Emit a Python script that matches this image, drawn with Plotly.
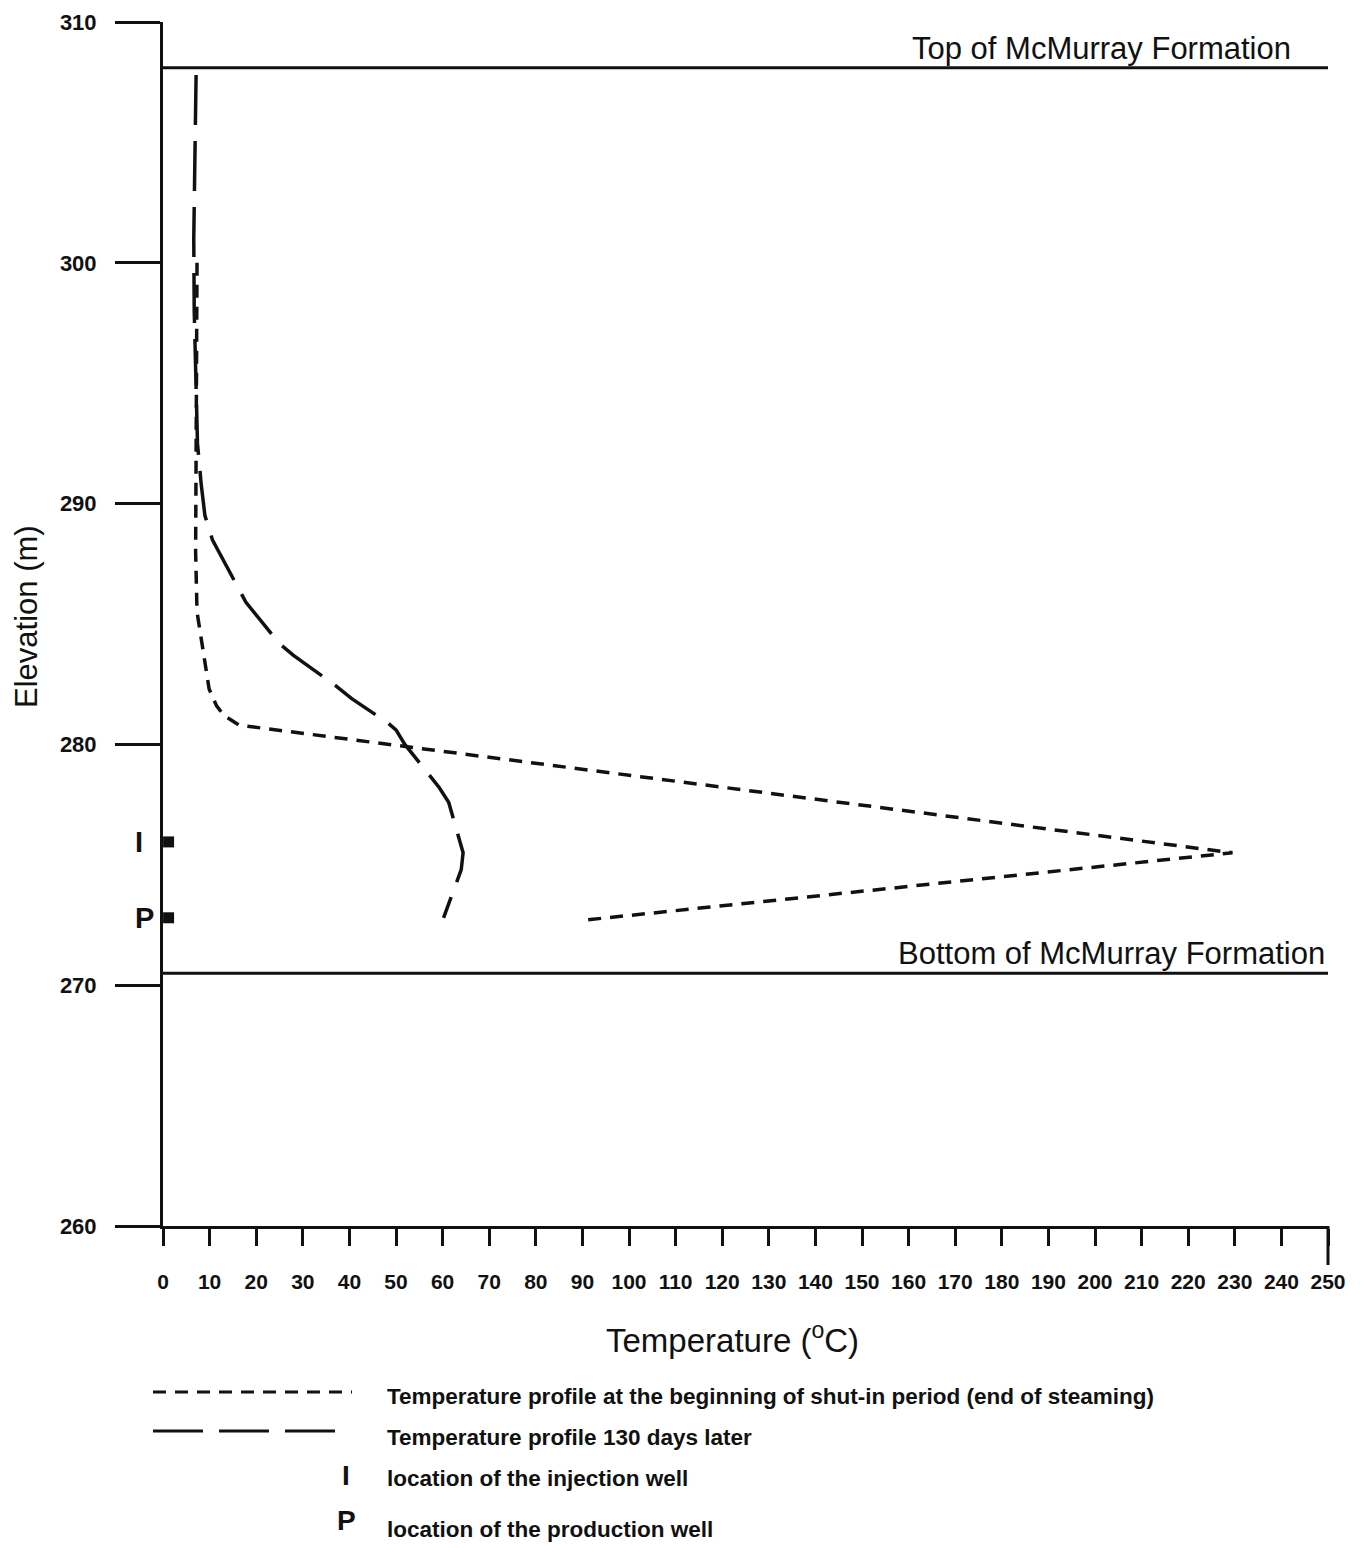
import plotly.graph_objects as go

# ---------------- data ----------------
# Temperature profile at the beginning of shut-in period (end of steaming)
shutin_temp = [7.3, 7.2, 7.0, 7.0, 7.3, 8.3, 9.9, 11.5, 13.1, 16.3, 229.5, 90.3]
shutin_elev = [300.0, 295.0, 290.8, 288.0, 285.5, 284.2, 282.3, 281.6, 281.2, 280.8, 275.5, 272.7]

# Temperature profile 130 days later
later_temp = [7.1, 6.9, 6.6, 6.7, 7.0, 7.4, 8.2, 9.0, 10.6, 15.8, 17.8, 24.9, 28.0,
              37.3, 40.5, 48.2, 50.0, 51.9, 59.3, 61.3, 64.4, 64.0, 60.2]
later_elev = [307.8, 304.5, 301.0, 298.0, 295.0, 292.5, 290.8, 289.5, 288.5, 286.6, 285.9, 284.2, 283.7,
              282.4, 281.9, 280.9, 280.6, 280.0, 278.2, 277.6, 275.5, 274.8, 272.8]

# Wells
well_names = ["I", "P"]
well_temp = [1.2, 1.2]
well_elev = [275.95, 272.8]

# Formation boundaries
formation_names = ["Top of McMurray Formation", "Bottom of McMurray Formation"]
formation_elev = [308.1, 270.5]

x_ticks = list(range(0, 251, 10))
y_ticks = list(range(260, 311, 10))

legend_labels = [
    "Temperature profile at the beginning of shut-in period (end of steaming)",
    "Temperature profile 130 days later",
    "location of the injection well",
    "location of the production well",
]

# ---------------- layout helpers ----------------
PAGE_OFF = 8                      # default body margin of the html page
W, H = 1367 - PAGE_OFF, 1548 - PAGE_OFF
# plot area in page pixels
L, R, T, B = 163, 1328, 22, 1226


def px_x(px):
    return (px - L) / (R - L)


def px_y(py):
    return (B - py) / (B - T)


SANS = "Liberation Sans, Arial, Helvetica, sans-serif"
INK = "#111111"

SHORT_DASH = "13px,9px"
LONG_DASH = "50px,16px"

fig = go.Figure()

fig.add_trace(go.Scatter(
    x=shutin_temp, y=shutin_elev, mode="lines",
    line=dict(color=INK, width=3.5, dash=SHORT_DASH),
    name=legend_labels[0], showlegend=False,
))
fig.add_trace(go.Scatter(
    x=later_temp, y=later_elev, mode="lines",
    line=dict(color=INK, width=3.5, dash=LONG_DASH),
    name=legend_labels[1], showlegend=False,
))
fig.add_trace(go.Scatter(
    x=well_temp, y=well_elev, mode="markers",
    marker=dict(symbol="square", size=11, color=INK),
    cliponaxis=False, showlegend=False,
))

# formation boundary lines
for e in formation_elev:
    fig.add_shape(type="line", xref="x", yref="y", x0=0, x1=250, y0=e, y1=e,
                  line=dict(color=INK, width=3))

# long end tick at right of x axis
fig.add_shape(type="line", xref="paper", yref="paper", x0=1, x1=1,
              y0=0, y1=px_y(1265), line=dict(color=INK, width=3))

ann = []
# formation labels
ann.append(dict(x=242.5, y=formation_elev[0], xref="x", yref="y", text=formation_names[0],
                xanchor="right", yanchor="bottom", showarrow=False,
                font=dict(family=SANS, size=31, color=INK)))
ann.append(dict(x=249.8, y=formation_elev[1], xref="x", yref="y", text=formation_names[1],
                xanchor="right", yanchor="bottom", showarrow=False,
                font=dict(family=SANS, size=31, color=INK)))
# well labels left of axis
for name, e, sh in zip(well_names, well_elev, [-24, -19]):
    ann.append(dict(x=0, y=e, xref="x", yref="y", text=name, xshift=sh,
                    xanchor="center", yanchor="middle", showarrow=False,
                    font=dict(family=SANS, size=29, color=INK, weight="bold")))
# axis titles
ann.append(dict(x=px_x(26), y=px_y(617), xref="paper", yref="paper", text="Elevation (m)",
                textangle=-90, showarrow=False, xanchor="center", yanchor="middle",
                font=dict(family=SANS, size=31, color=INK)))
ann.append(dict(x=px_x(732), y=px_y(1338), xref="paper", yref="paper",
                text="Temperature (<sup>o</sup>C)", showarrow=False,
                xanchor="center", yanchor="middle",
                font=dict(family=SANS, size=33, color=INK)))

# legend
leg_rows_y = [1397, 1437, 1478, 1529]
for lab, py in zip(legend_labels, leg_rows_y):
    ann.append(dict(x=px_x(385), y=px_y(py), xref="paper", yref="paper", text=lab,
                    showarrow=False, xanchor="left", yanchor="middle",
                    font=dict(family=SANS, size=22.5, color=INK, weight="bold")))
for name, py in zip(well_names, [1475, 1520]):
    ann.append(dict(x=px_x(346), y=px_y(py), xref="paper", yref="paper", text=name,
                    showarrow=False, xanchor="center", yanchor="middle",
                    font=dict(family=SANS, size=28, color=INK, weight="bold")))

fig.add_shape(type="line", xref="paper", yref="paper", x0=px_x(153), x1=px_x(352),
              y0=px_y(1392), y1=px_y(1392), line=dict(color=INK, width=3, dash=SHORT_DASH))
fig.add_shape(type="line", xref="paper", yref="paper", x0=px_x(153), x1=px_x(348),
              y0=px_y(1431), y1=px_y(1431), line=dict(color=INK, width=3, dash=LONG_DASH))

fig.update_layout(
    width=W, height=H,
    margin=dict(l=L - PAGE_OFF, r=W - (R - PAGE_OFF), t=T - PAGE_OFF,
                b=H - (B - PAGE_OFF), autoexpand=False),
    paper_bgcolor="white", plot_bgcolor="white",
    showlegend=False,
    annotations=ann,
    xaxis=dict(
        range=[0, 250], tickmode="array", tickvals=x_ticks,
        ticktext=[str(v) for v in x_ticks], tickangle=0, automargin=False,
        showline=True, linecolor=INK, linewidth=3, mirror=False,
        ticks="outside", ticklen=17, tickwidth=3, tickcolor=INK,
        showgrid=False, zeroline=False, ticklabelstandoff=18,
        ticklabeloverflow="allow",
        tickfont=dict(family=SANS, size=21, color=INK, weight="bold"),
    ),
    yaxis=dict(
        range=[260, 310], tickmode="array", tickvals=y_ticks, automargin=False,
        showline=True, linecolor=INK, linewidth=3, mirror=False,
        ticks="outside", ticklen=45, tickwidth=3, tickcolor=INK,
        showgrid=False, zeroline=False, ticklabelstandoff=14,
        ticklabeloverflow="allow",
        tickfont=dict(family=SANS, size=22, color=INK, weight="bold"),
    ),
)

fig.write_html("out.html")
